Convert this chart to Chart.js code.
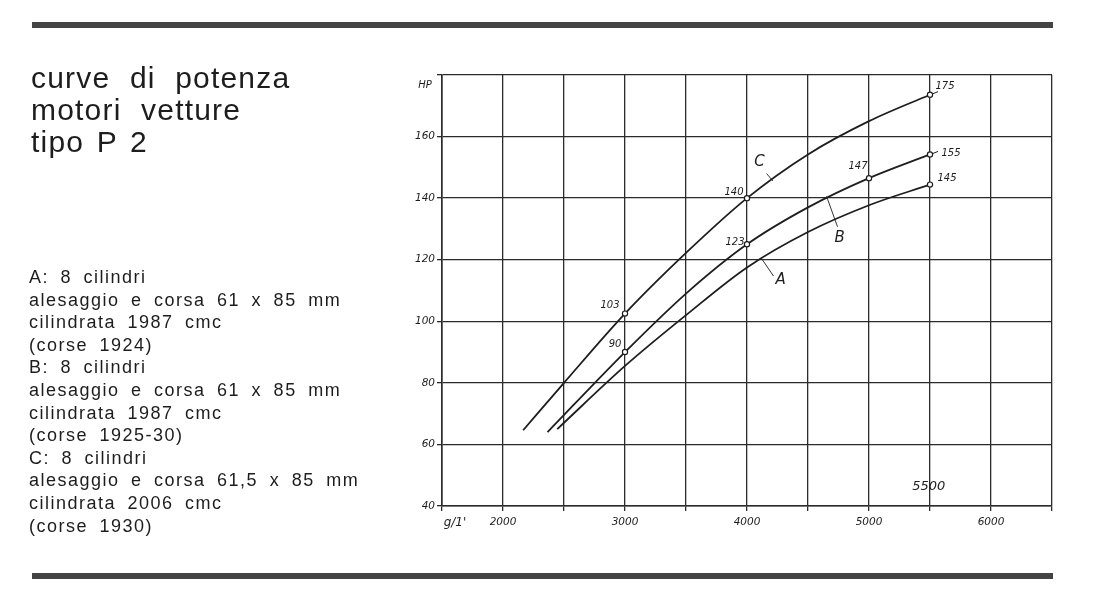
<!DOCTYPE html>
<html>
<head>
<meta charset="utf-8">
<script src="https://cdn.jsdelivr.net/npm/chart.js@4.4.0/dist/chart.umd.min.js"></script>
<style>
  html, body { margin: 0; padding: 0; background: #fff; }
  #page { position: relative; width: 1099px; height: 601px; overflow: hidden; background: #fff; }
  #chart { position: absolute; left: 0; top: 0; }
  .rule { position: absolute; left: 32px; width: 1021px; height: 6px; background: #444; }
  #title {
    position: absolute; left: 31px; top: 62px;
    font-family: "Liberation Sans", Arial, sans-serif; font-size: 30px; line-height: 32px;
    letter-spacing: 1.2px; word-spacing: 10px; color: #1d1d1d; white-space: pre;
  }
  #title .tight { word-spacing: 3px; }
  #specs {
    position: absolute; left: 29px; top: 266px;
    font-family: "Liberation Sans", Arial, sans-serif; font-size: 18px; line-height: 22.6px;
    letter-spacing: 1.5px; word-spacing: 5px; color: #1d1d1d; white-space: pre;
  }
</style>
</head>
<body>
<div id="page">
  <canvas id="chart" width="1099" height="601"></canvas>
  <div class="rule" style="top:22px"></div>
  <div class="rule" style="top:573px"></div>
  <div id="title">curve di potenza
motori vetture
<span class="tight">tipo P 2</span></div>
  <div id="specs">A: 8 cilindri
alesaggio e corsa 61 x 85 mm
cilindrata 1987 cmc
(corse 1924)
B: 8 cilindri
alesaggio e corsa 61 x 85 mm
cilindrata 1987 cmc
(corse 1925-30)
C: 8 cilindri
alesaggio e corsa 61,5 x 85 mm
cilindrata 2006 cmc
(corse 1930)</div>
</div>
<script>
// giri/minuto and HP
const rpmA = [2445, 3000, 3500, 4000, 4500, 5000, 5500];
const hpA  = [65, 85.5, 102, 117.5, 129, 137.7, 144.4];
const rpmB = [2365, 3000, 3500, 4000, 4500, 5000, 5500];
const hpB  = [64, 90, 109, 125, 137, 146.5, 154.2];
const rpmC = [2165, 2500, 3000, 3500, 4000, 4500, 5000, 5500];
const hpC  = [64.6, 80, 102.5, 122.2, 140, 154.2, 165, 173.6];

// which points carry a marker + the number written next to it
const markedA = [6];
const markedB = [1, 3, 5, 6];
const markedC = [2, 4, 7];
const textsA = ['145'];
const textsB = ['90', '123', '147', '155'];
const textsC = ['103', '140', '175'];

const ink = '#1e1e1e';
const handFont = '"DejaVu Sans", sans-serif';

function toPoints(xs, ys) {
    return xs.map((x, i) => ({ x: x, y: ys[i] }));
}

function radii(xs, marked) {
    return xs.map((_, i) => marked.includes(i) ? 2.6 : 0);
}

function curve(label, xs, ys, marked) {
    return {
        label: label,
        data: toPoints(xs, ys),
        borderColor: ink,
        borderWidth: 1.8,
        pointRadius: radii(xs, marked),
        pointBackgroundColor: '#fff',
        pointBorderColor: ink,
        pointBorderWidth: 1.2,
        cubicInterpolationMode: 'monotone',
        fill: false
    };
}

// label offsets in px from the marked point (dataset, point, dx, dy)
const valueNotes = [
    { set: 2, idx: markedC[0], text: textsC[0], dx: -15, dy: -8 },
    { set: 2, idx: markedC[1], text: textsC[1], dx: -13, dy: -6 },
    { set: 2, idx: markedC[2], text: textsC[2], dx: 15, dy: -8, dash: true },
    { set: 1, idx: markedB[0], text: textsB[0], dx: -10, dy: -8 },
    { set: 1, idx: markedB[1], text: textsB[1], dx: -12, dy: -2 },
    { set: 1, idx: markedB[2], text: textsB[2], dx: -11, dy: -12 },
    { set: 1, idx: markedB[3], text: textsB[3], dx: 21, dy: -1, dash: true },
    { set: 0, idx: markedA[0], text: textsA[0], dx: 17, dy: -6 }
];

// curve letters with their leader lines, in chart units
const letterNotes = [
    { text: 'C', at: [4103, 151.6], from: [4160, 148], to: [4212, 145.6] },
    { text: 'B', at: [4759, 127.1], from: [4652, 140.6], to: [4742, 130.7] },
    { text: 'A', at: [4275, 113.4], from: [4119, 120.4], to: [4217, 114.7] }
];

const notesPlugin = {
    id: 'notes',
    afterDatasetsDraw(chart) {
        const ctx = chart.ctx;
        const xs = chart.scales.x;
        const ys = chart.scales.y;
        ctx.save();
        ctx.fillStyle = ink;
        ctx.strokeStyle = ink;
        ctx.textAlign = 'center';
        ctx.textBaseline = 'middle';

        ctx.font = 'italic 10px ' + handFont;
        valueNotes.forEach(n => {
            const pt = chart.getDatasetMeta(n.set).data[n.idx];
            ctx.fillText(n.text, pt.x + n.dx, pt.y + n.dy);
            if (n.dash) {
                ctx.lineWidth = 1;
                ctx.beginPath();
                ctx.moveTo(pt.x + 3, pt.y - 1);
                ctx.lineTo(pt.x + 8, pt.y - 3);
                ctx.stroke();
            }
        });

        ctx.font = 'italic 15px ' + handFont;
        ctx.lineWidth = 0.9;
        letterNotes.forEach(n => {
            ctx.fillText(n.text, xs.getPixelForValue(n.at[0]), ys.getPixelForValue(n.at[1]));
            ctx.beginPath();
            ctx.moveTo(xs.getPixelForValue(n.from[0]), ys.getPixelForValue(n.from[1]));
            ctx.lineTo(xs.getPixelForValue(n.to[0]), ys.getPixelForValue(n.to[1]));
            ctx.stroke();
        });

        ctx.font = 'italic 13px ' + handFont;
        ctx.fillText('5500', xs.getPixelForValue(5490), ys.getPixelForValue(46.2));

        // axis names
        ctx.font = 'italic 10px ' + handFont;
        ctx.fillText('HP', xs.left - 17, ys.getPixelForValue(176.7));
        ctx.font = 'italic 12px ' + handFont;
        ctx.fillText("g/1'", xs.left + 13, ys.bottom + 17);
        ctx.restore();
    }
};

const axisFont = { family: handFont, size: 10.5, style: 'italic' };

new Chart(document.getElementById('chart').getContext('2d'), {
    type: 'line',
    data: {
        datasets: [
            curve('A', rpmA, hpA, markedA),
            curve('B', rpmB, hpB, markedB),
            curve('C', rpmC, hpC, markedC)
        ]
    },
    options: {
        responsive: false,
        animation: false,
        layout: { padding: { top: 75, right: 47, left: 0, bottom: 0 } },
        plugins: {
            legend: { display: false },
            tooltip: { enabled: false }
        },
        scales: {
            x: {
                type: 'linear',
                min: 1500,
                max: 6500,
                afterFit: function(scale) { scale.height = 95; },
                ticks: {
                    stepSize: 500,
                    autoSkip: false,
                    maxRotation: 0,
                    padding: 5,
                    color: ink,
                    font: axisFont,
                    callback: function(value) {
                        return value % 1000 === 0 ? String(value) : '';
                    }
                },
                grid: { color: '#2b2b2b', lineWidth: 1.3, tickLength: 5 },
                border: { color: '#2b2b2b', width: 1.6 }
            },
            y: {
                min: 40,
                max: 180,
                afterFit: function(scale) { scale.width = 442; },
                ticks: {
                    stepSize: 20,
                    padding: 2,
                    color: ink,
                    font: axisFont,
                    callback: function(value) {
                        return value === 180 ? '' : String(value);
                    }
                },
                grid: { color: '#2b2b2b', lineWidth: 1.3, tickLength: 5 },
                border: { color: '#2b2b2b', width: 1.6 }
            }
        }
    },
    plugins: [notesPlugin]
});
</script>
</body>
</html>
